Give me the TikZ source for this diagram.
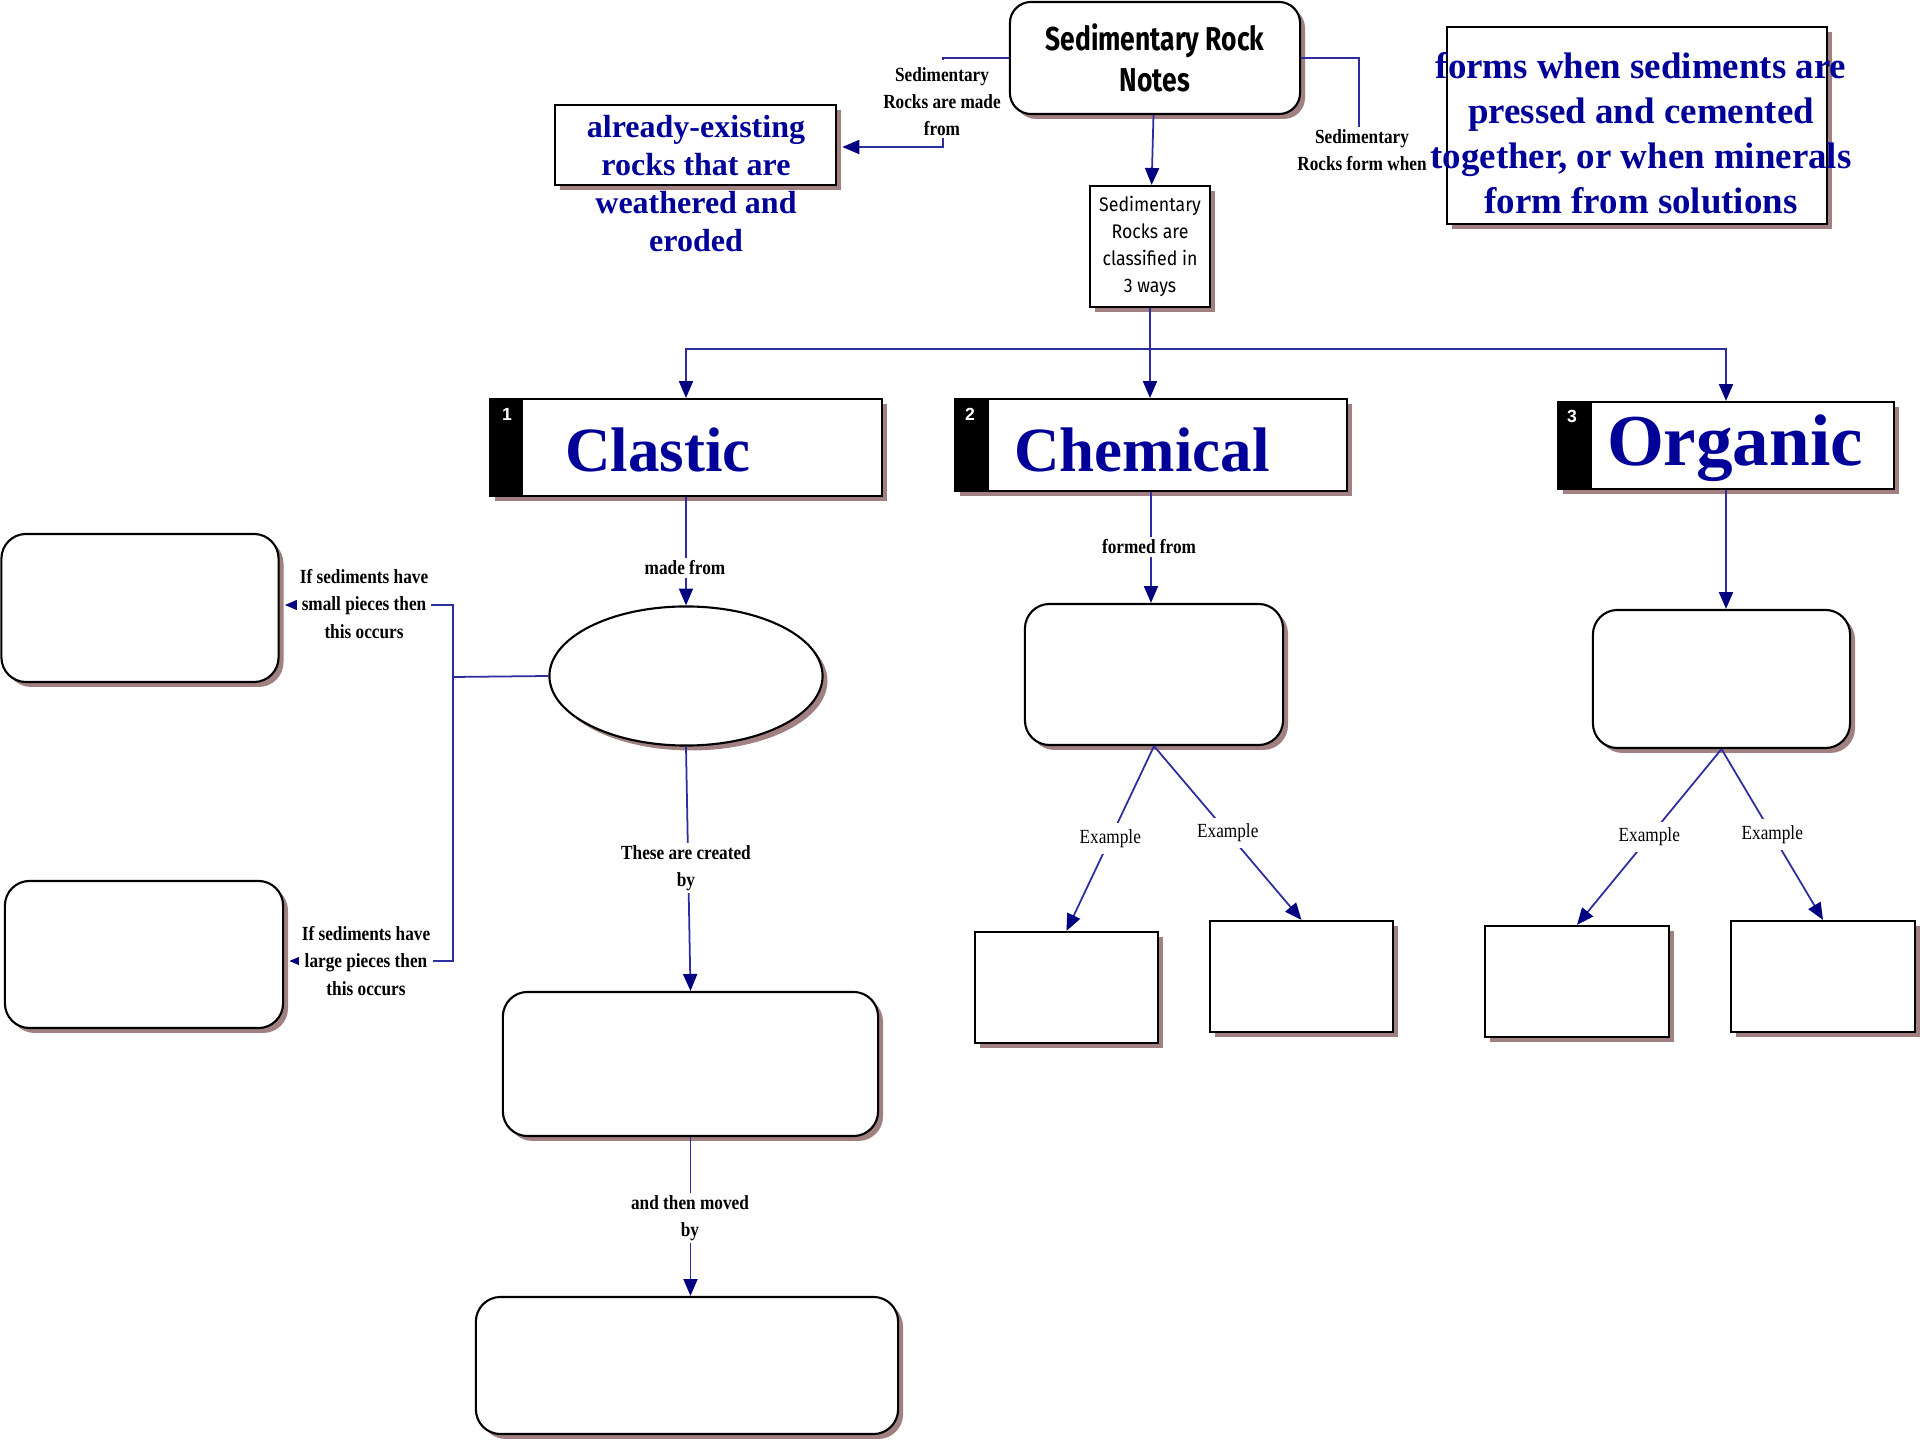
\documentclass[tikz,border=0pt]{standalone}
\usepackage{fontspec}
\setmainfont{Liberation Serif}
\newfontfamily\lblfont[FakeStretch=0.86]{Liberation Serif}
\newfontfamily\handfont[FakeStretch=0.8]{Fira Sans}
\newfontfamily\handwide[FakeStretch=0.9]{Fira Sans}
\newfontfamily\tabfont{Liberation Sans}
\usetikzlibrary{arrows.meta,shapes.geometric,shadows,calc}

\newcommand\fsz[2]{\fontsize{#1pt}{#2pt}\selectfont}

\definecolor{navytext}{RGB}{0,0,153}
\definecolor{linecol}{RGB}{45,45,160}
\definecolor{headcol}{RGB}{0,0,128}
\definecolor{shadecol}{RGB}{160,128,128}

\tikzset{
  conn/.style={draw=linecol, line width=0.5pt},
  arr/.style={conn, -{Triangle[length=4.8pt,width=4pt,color=headcol]}},
  box/.style={draw=black, line width=0.6pt, fill=white, inner sep=0pt,
    drop shadow={shadow xshift=1.4pt, shadow yshift=-1.4pt, fill=shadecol, opacity=1}},
  rbox/.style={box, rounded corners=7pt},
  lbl/.style={font=\lblfont\bfseries\fsz{5.7}{7.7}, align=center, fill=white, inner sep=0.8pt},
  exlbl/.style={font=\lblfont\fsz{5.7}{7}, fill=white, inner sep=1.8pt},
  bluetext/.style={font=\bfseries\fsz{9.1}{10.8}, text=navytext, align=center},
  cattext/.style={font=\bfseries\fsz{17.9}{20}, text=navytext, anchor=base},
  tabnum/.style={font=\tabfont\bfseries\fsz{5}{6}, text=white, inner sep=0pt},
}

\begin{document}
\begin{tikzpicture}[x=0.01cm,y=-0.01cm]
\fill[white] (0,0) rectangle (1920,1440);
\useasboundingbox (0,0) rectangle (1920,1440);

% ---------- top row ----------
\node[rbox, rounded corners=6pt, minimum width=2.90cm, minimum height=1.12cm,
      font=\handfont\bfseries\fsz{9.4}{11.7}, align=center] (title) at (1155,58)
      {Sedimentary Rock\\Notes};
\node[box, minimum width=1.20cm, minimum height=1.21cm,
      font=\handwide\fsz{5.6}{7.7}, align=center] (classify) at (1150,246.5)
      {Sedimentary\\Rocks are\\classified in\\3 ways};

\node[box, minimum width=2.81cm, minimum height=0.80cm] (made) at (695.5,145) {};
\node[bluetext] (madetext) at (696,184)
      {already-existing\\rocks that are\\weathered and\\eroded};

\node[box, minimum width=3.80cm, minimum height=1.97cm] (forms) at (1637,125.5) {};
\node[bluetext, font=\bfseries\fsz{10.5}{12.8}] (formstext) at (1641,133)
      {forms when sediments are\\pressed and cemented\\together, or when minerals\\form from solutions};

% ---------- the three kinds ----------
\node[box, minimum width=3.92cm, minimum height=0.97cm] (clastic) at (686,447.5) {};
\fill (clastic.north west) rectangle ($(clastic.south west)+(34,0)$);
\node[tabnum] (n1) at (507,414) {1};
\node[cattext] (clastictext) at (658,472) {Clastic};

\node[box, minimum width=3.92cm, minimum height=0.92cm] (chemical) at (1151,445) {};
\fill (chemical.north west) rectangle ($(chemical.south west)+(35,0)$);
\node[tabnum] (n2) at (970,414) {2};
\node[cattext] (chemtext) at (1142,472) {Chemical};

\node[box, minimum width=3.36cm, minimum height=0.87cm] (organic) at (1726,445.5) {};
\fill (organic.north west) rectangle ($(organic.south west)+(35,0)$);
\node[tabnum] (n3) at (1572,416) {3};
\node[cattext, font=\bfseries\fsz{20.8}{23}] (orgtext) at (1735,466) {Organic};

% ---------- clastic branch ----------
\node[box, ellipse, minimum width=2.73cm, minimum height=1.39cm] (sediments) at (686,676) {};
\node[rbox, minimum width=2.77cm, minimum height=1.48cm] (fine) at (140,608) {};
\node[rbox, minimum width=2.78cm, minimum height=1.47cm] (coarse) at (144,954.5) {};
\node[rbox, minimum width=3.75cm, minimum height=1.44cm] (weather) at (690.5,1064) {};
\node[rbox, minimum width=4.22cm, minimum height=1.37cm] (erosion) at (687,1365.5) {};

% ---------- chemical branch ----------
\node[rbox, minimum width=2.58cm, minimum height=1.41cm] (chemsrc) at (1154,674.5) {};
\node[box, minimum width=1.83cm, minimum height=1.11cm] (chemA) at (1066.5,987.5) {};
\node[box, minimum width=1.83cm, minimum height=1.11cm] (chemB) at (1301.5,976.5) {};

% ---------- organic branch ----------
\node[rbox, minimum width=2.57cm, minimum height=1.38cm] (orgsrc) at (1721.5,679) {};
\node[box, minimum width=1.84cm, minimum height=1.11cm] (orgA) at (1577,981.5) {};
\node[box, minimum width=1.84cm, minimum height=1.11cm] (orgB) at (1823,976.5) {};

% ---------- connectors ----------
\draw[arr] (title) -- (classify);

\coordinate (mk1) at (943,58);
\coordinate (mk2) at (943,147);
\draw[arr, shorten >=1.5pt] (title.west) -- (mk1) -- (mk2) -- (made.east |- mk2);

\coordinate (fw) at (1359,140);
\draw[conn] (title.east) -| (fw);

\coordinate (hub) at (1150,349);
\draw[conn] (classify) -- (hub);
\draw[arr] (hub) -| (clastic.north);
\draw[arr] (hub) -- (hub |- chemical.north);
\draw[arr] (hub) -| (organic.north);

\draw[arr] (clastic) -- (sediments);
\coordinate (brT) at (453,605);
\coordinate (brM) at (453,677);
\coordinate (brB) at (453,961);
\draw[conn] (sediments.west) -- (brM);
\draw[arr, shorten >=1.5pt] (brM) -- (brT) -- (fine.east |- brT);
\draw[arr, shorten >=1.5pt] (brM) -- (brB) -- (coarse.east |- brB);
\draw[arr] (sediments.south) -- (weather.north);
\draw[arr] (weather.south) -- (weather.south |- erosion.north);

\draw[arr] (chemical.south) -- (chemical.south |- chemsrc.north);
\draw[arr] (organic.south) -- (organic.south |- orgsrc.north);

\draw[arr] (chemsrc.south) -- node[exlbl] (ex1) {Example} (chemA.north);
\draw[arr] (chemsrc.south) -- node[exlbl] (ex2) {Example} (chemB.north);
\draw[arr] (orgsrc.south) -- node[exlbl] (ex3) {Example} (orgA.north);
\draw[arr] (orgsrc.south) -- node[exlbl] (ex4) {Example} (orgB.north);

% ---------- connector labels ----------
\node[lbl, anchor=north] (madefrom) at (942,59.5)
      {\rule{0pt}{5.2pt}Sedimentary\\Rocks are made\\from};
\node[lbl] (formwhen) at (1362,150) {Sedimentary\\Rocks form when};
\node[lbl] (madeof) at (685,568) {made from};
\node[lbl] (smallp) at (364,604) {If sediments have\\small pieces then\\this occurs};
\node[lbl] (largep) at (366,961) {If sediments have\\large pieces then\\this occurs};
\node[lbl] (createdby) at (686,868) {These are created\\by};
\node[lbl] (movedby) at (690,1218) {and then moved\\by};
\node[lbl] (formedfrom) at (1149,547) {formed from};
\end{tikzpicture}
\end{document}
